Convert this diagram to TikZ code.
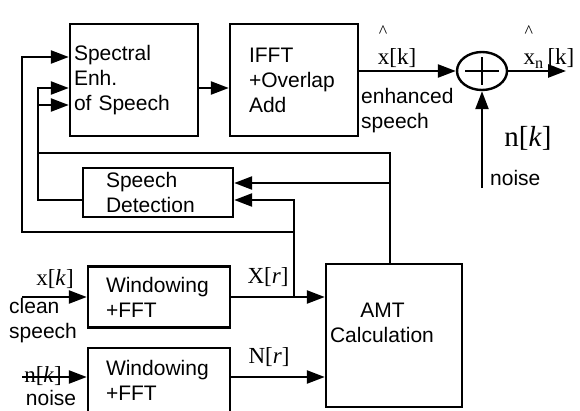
\documentclass[tikz,border=0pt]{standalone}
\usepackage{fontspec}
\setmainfont{Liberation Sans}
\newfontfamily\tms{Liberation Serif}
\usetikzlibrary{arrows.meta,shapes.geometric}
\newcommand\hatx[1]{\rlap{\raisebox{27pt}{\kern1pt\fontsize{18}{18}\selectfont\textasciicircum}}#1}
\begin{document}
\begin{tikzpicture}[x=1pt,y=-1pt,
  blk/.style={draw,line width=2.4pt,align=left,font=\fontsize{21}{25}\selectfont,inner ysep=0pt},
  sig/.style={line width=2.4pt,-{Triangle[length=18pt,width=13pt]}},
  wire/.style={line width=2.4pt},
  lab/.style={font=\tms\fontsize{23}{26}\selectfont,inner sep=0pt},
  txt/.style={font=\fontsize{21}{25}\selectfont,inner sep=0pt,align=left}]
\useasboundingbox (0,0) rectangle (580,410);
\node[blk,minimum width=128pt,minimum height=112pt,text width=120pt,inner xsep=4pt] (spec) at (134,80) {Spectral\\Enh.\\of Speech};
\node[blk,minimum width=128pt,minimum height=112pt,text width=90pt,inner xsep=19pt] (ifft) at (294,80) {IFFT\\+Overlap\\Add};
\node[blk,minimum width=150pt,minimum height=49pt,text width=104pt,inner xsep=23pt] (sdet) at (158,192.5) {Speech\\Detection};
\node[blk,minimum width=142pt,minimum height=61pt,text width=106pt,inner xsep=18pt] (win1) at (159,297) {Windowing\\+FFT};
\node[blk,minimum width=142pt,minimum height=64pt,text width=106pt,inner xsep=18pt] (win2) at (159,380) {Windowing\\+FFT};
\node[blk,minimum width=136pt,minimum height=143pt,text width=128pt,inner xsep=4pt] (amt) at (394,335.5) {\makebox[105pt][c]{AMT}\\Calculation\\\mbox{}};
\node[ellipse,draw,line width=2.4pt,minimum width=50pt,minimum height=38pt,inner sep=0pt] (sum) at (482,71) {};
\draw[wire] (sum.center) +(-17,0) -- +(17,0) +(0,-14) -- +(0,14);
\coordinate (xin) at (22,297);
\coordinate (nin) at (22,377);
\coordinate (tap) at (294,297);
\coordinate (lo) at (22,232);
\coordinate (fb) at (390,153);
\coordinate (fbl) at (38,153);
\coordinate (nsrc) at (482,188);
\coordinate (xout) at (566,71);
\coordinate (sdhi) at ([yshift=9.5pt]sdet.east);
\coordinate (sdlo) at ([yshift=-7.5pt]sdet.east);
\draw[sig] (xin) -- (win1.west |- xin);
\draw[sig] (nin) -- (win2.west |- nin);
\draw[sig] (win1.east |- xin) -- (amt.west |- xin);
\draw[sig] (win2.east |- nin) -- (amt.west |- nin);
\draw[sig] (tap) |- (sdlo);
\draw[sig] (tap |- lo) -- (lo) |- ([yshift=23pt]spec.west);
\draw[sig] (amt.north -| fb) -- (fb) -- (fbl) |- ([yshift=-8pt]spec.west);
\draw[sig] (sdhi -| fb) -- (sdhi);
\draw[sig] ([yshift=-7.5pt]sdet.west) -| (fbl) |- ([yshift=-25pt]spec.west);
\draw[sig] ([yshift=-8pt]spec.east) -- ([yshift=-8pt]ifft.west);
\draw[sig] (ifft.east |- sum.west) -- (sum.west);
\draw[sig] (sum.east) -- (xout);
\draw[sig] (nsrc) -- (sum.south);
\node[lab] (xhat) at (397,47) {\hatx{x}[k]};
\node[lab] (xn) at (549,47) {\hatx{x}\textsubscript{n}\,[k]};
\node[lab,font=\tms\fontsize{29}{32}\selectfont] (nk) at (528,138) {n[\textit{k}]};
\node[txt,anchor=west] (noise) at (490,178) {noise};
\node[txt,anchor=west] (enh) at (361,111) {enhanced\\speech};
\node[lab] (xk) at (55,279) {x[\textit{k}]};
\node[txt,anchor=west] (clean) at (9,321) {clean\\speech};
\node[lab] (nkl) at (43,376) {n[\textit{k}]};
\node[txt] (noisel) at (51,398) {noise};
\node[lab] (xr) at (268,277) {X[\textit{r}]};
\node[lab] (nr) at (269,357) {N[\textit{r}]};
\end{tikzpicture}
\end{document}
